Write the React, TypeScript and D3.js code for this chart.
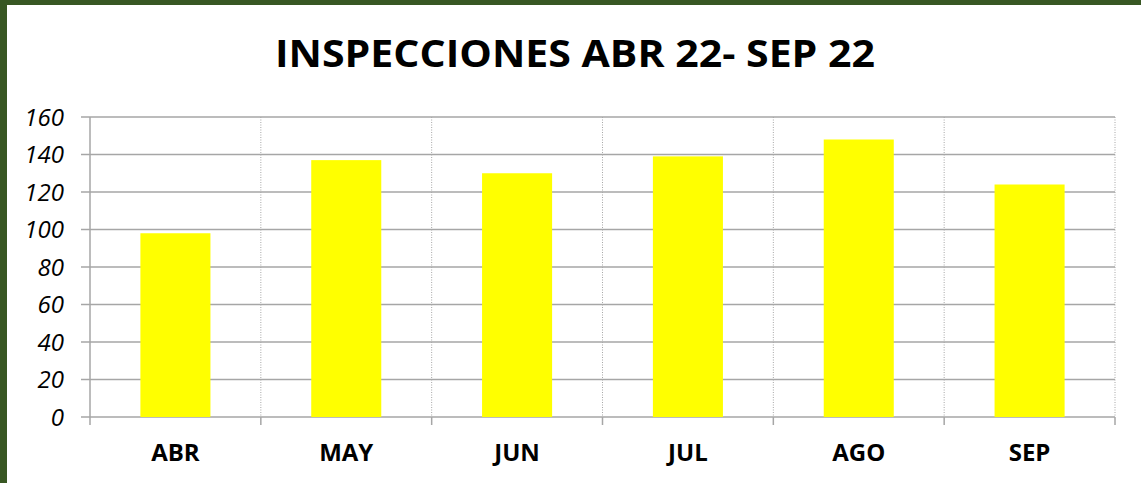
import React from 'react';
import * as d3 from 'd3';

const months = ['ABR', 'MAY', 'JUN', 'JUL', 'AGO', 'SEP'];
const inspections = [98, 137, 130, 139, 148, 124];
const yTicks = [0, 20, 40, 60, 80, 100, 120, 140, 160];
const title = 'INSPECCIONES ABR 22- SEP 22';

const W = 1141;
const H = 483;
const margin = { top: 117, right: 26, bottom: 66, left: 90 };

const App = () => {
    const innerW = W - margin.left - margin.right;
    const innerH = H - margin.top - margin.bottom;

    const x = d3.scaleBand().domain(months).range([0, innerW]).paddingInner(0.59).paddingOuter(0.295);
    const xOuter = d3.scaleBand().domain(months).range([0, innerW]);
    const y = d3.scaleLinear().domain([0, 160]).range([innerH, 0]);

    const gridColor = '#a6a6a6';
    const bounds = months.map(m => xOuter(m) || 0).concat([innerW]);

    return (
        <div style={{ position: 'absolute', left: 0, top: 0, width: W, height: H }}>
            <svg width={W} height={H} style={{ display: 'block' }}>
                <rect x={0} y={0} width={W} height={H} fill="#ffffff" />
                {/* green frame */}
                <rect x={0} y={0} width={W} height={5} fill="#385723" />
                <rect x={0} y={0} width={7} height={H} fill="#385723" />

                <text x={575} y={67} textAnchor="middle" fontFamily="'Open Sans', sans-serif"
                    fontWeight="bold" fontSize={38} textLength={600} lengthAdjust="spacingAndGlyphs" fill="#000">
                    {title}
                </text>

                <g transform={`translate(${margin.left},${margin.top})`}>
                    {/* vertical dotted separators */}
                    {bounds.slice(1).map((b, i) => (
                        <line key={'v' + i} x1={b} x2={b} y1={0} y2={innerH}
                            stroke={gridColor} strokeWidth={1} strokeDasharray="1,1.5" />
                    ))}
                    {/* horizontal grid */}
                    {yTicks.map(t => (
                        <line key={'h' + t} x1={-9} x2={innerW} y1={y(t)} y2={y(t)}
                            stroke={gridColor} strokeWidth={1.5} />
                    ))}
                    {/* y axis */}
                    <line x1={0} x2={0} y1={0} y2={innerH + 8} stroke={gridColor} strokeWidth={1.5} />
                    {bounds.slice(1).map((b, i) => (
                        <line key={'t' + i} x1={b} x2={b} y1={innerH} y2={innerH + 8}
                            stroke={gridColor} strokeWidth={1.5} />
                    ))}
                    {yTicks.map(t => (
                        <text key={'l' + t} x={-26} y={y(t)} dy="0.36em" textAnchor="end"
                            fontFamily="'Open Sans', sans-serif" fontStyle="italic" fontSize={24} fill="#000">
                            {t}
                        </text>
                    ))}

                    {months.map((m, i) => (
                        <rect key={m} x={x(m)} y={y(inspections[i])} width={x.bandwidth()}
                            height={innerH - y(inspections[i])} fill="#ffff00" />
                    ))}

                    {months.map(m => (
                        <text key={'c' + m} x={(xOuter(m) || 0) + xOuter.bandwidth() / 2} y={innerH + 44}
                            textAnchor="middle" fontFamily="'Open Sans', sans-serif" fontWeight="bold"
                            fontSize={24} fill="#000">
                            {m}
                        </text>
                    ))}
                </g>
            </svg>
        </div>
    );
};

export default App;
